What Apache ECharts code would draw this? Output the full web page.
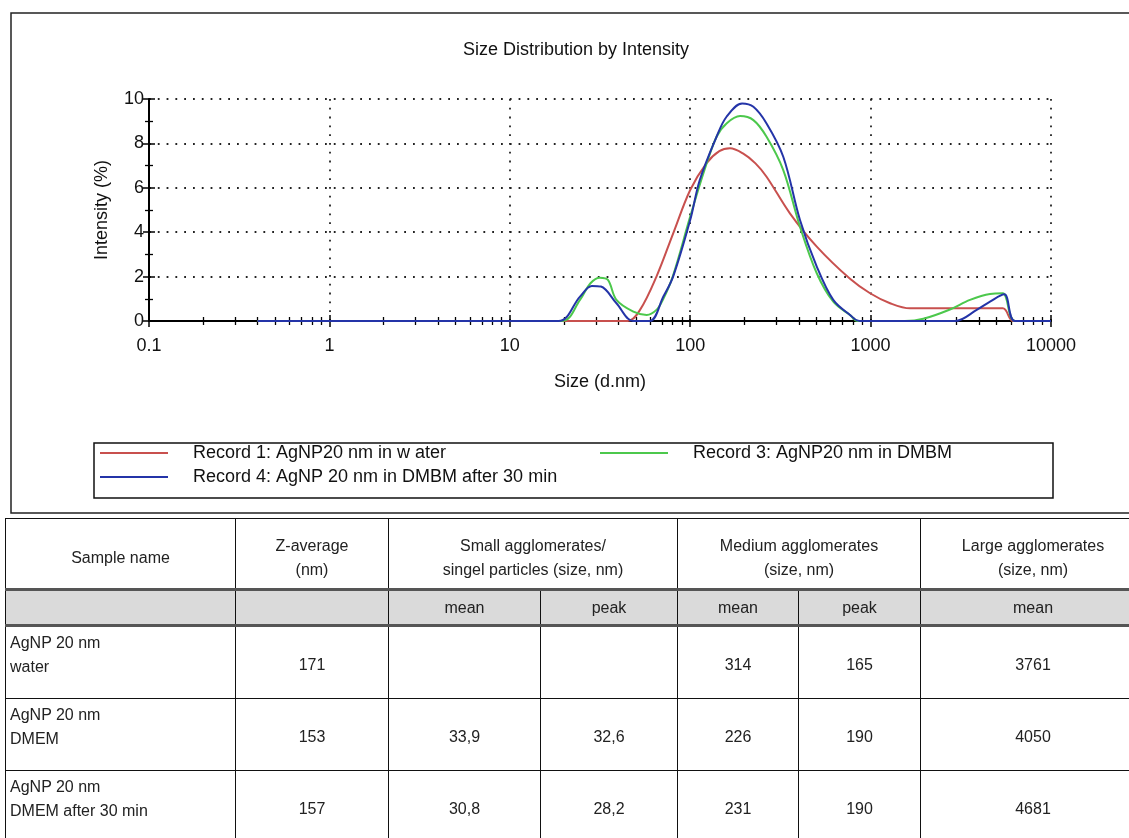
<!DOCTYPE html>
<html><head><meta charset="utf-8">
<script src="https://cdn.jsdelivr.net/npm/echarts@6/dist/echarts.min.js"></script>
<style>
html,body{margin:0;padding:0;background:#fff;width:1129px;height:838px;overflow:hidden;position:relative;}
#chart{position:absolute;left:0;top:0;width:1129px;height:520px;}
#tbl{position:absolute;left:5px;top:518px;border-collapse:collapse;table-layout:fixed;width:1140px;
 font-family:'Liberation Sans Narrow','Liberation Sans',Arial,sans-serif;font-size:16px;color:#222;}
#tbl td{border:1.5px solid #111;text-align:center;vertical-align:middle;padding:0;line-height:24px;}
#tbl tr.h td{border-bottom:3px solid #555;padding-top:8px;}
#tbl tr.s td{background:#dadada;border-bottom:3px solid #555;}
#tbl td.name{text-align:left;vertical-align:top;padding:4px 0 0 4px;}
#tbl td.num{padding-top:4px;}
</style></head>
<body>
<div id="chart"></div>
<table id="tbl"></table>
<script>
// ---------- chart data ----------
const chartTitle = 'Size Distribution by Intensity';
const seriesNames = ['Record 1: AgNP20 nm in w ater', 'Record 3: AgNP20 nm in DMBM', 'Record 4: AgNP 20 nm in DMBM after 30 min'];
const seriesColors = ['#c8504e', '#4cc84c', '#2434a8'];
const xTicks = [0.1, 1, 10, 100, 1000, 10000];

const sizeWater = [0.4, 45, 52.7, 65, 80.5, 100, 123, 145, 166, 196, 230, 265, 357, 503, 769, 993, 1282, 1656, 5400, 6170, 10000];
const intWater  = [0,   0,  0.5,  2.0, 3.95, 5.9, 7.1, 7.65, 7.78, 7.55, 7.1, 6.5, 4.85, 3.35, 1.9, 1.25, 0.8, 0.57, 0.57, 0, 0];

const sizeDmem = [0.4, 19.5, 24.5, 28, 31.6, 35, 39, 48.4, 57.4, 65, 71, 80, 100, 120, 140, 159, 189, 224, 265, 328, 406, 503, 621, 769, 850, 1549, 1960, 2754, 3556, 4592, 5400, 6310, 10000];
const intDmem  = [0,   0,    0.95, 1.7, 1.95, 1.85, 0.95, 0.42, 0.27, 0.5, 1.0, 2.0, 4.7, 6.8, 8.3, 8.9, 9.23, 9.05, 8.3, 6.8, 4.25, 2.15, 0.87, 0.27, 0, 0, 0.1, 0.52, 0.95, 1.22, 1.25, 0, 0];

const sizeDmem30 = [0.4, 18.6, 24.5, 28.5, 32, 39, 48.2, 59.8, 71, 80.4, 100, 113, 140, 159, 194, 224, 265, 328, 406, 503, 621, 769, 870, 2938, 3873, 4592, 5508, 6310, 10000];
const intDmem30  = [0,   0,    1.1,  1.58, 1.55, 0.8, 0,  0,    1.1, 2.0, 4.55, 6.35, 8.3, 9.2, 9.8, 9.65, 8.9, 7.4, 4.55, 2.45, 0.95, 0.27, 0, 0, 0.5, 0.87, 1.2, 0, 0];

// ---------- table data ----------
const headTop = ['Sample name', 'Z-average<br>(nm)', 'Small agglomerates/<br>singel particles (size, nm)', 'Medium agglomerates<br>(size, nm)', 'Large agglomerates<br>(size, nm)'];
const subHead = ['', '', 'mean', 'peak', 'mean', 'peak', 'mean'];
const sampleNames = ['AgNP 20 nm<br>water', 'AgNP 20 nm<br>DMEM', 'AgNP 20 nm<br>DMEM after 30 min'];
const zAverage = ['171', '153', '157'];
const smallMean = ['', '33,9', '30,8'];
const smallPeak = ['', '32,6', '28,2'];
const mediumMean = ['314', '226', '231'];
const mediumPeak = ['165', '190', '190'];
const largeMean = ['3761', '4050', '4681'];

// ---------- build table ----------
(function(){
  const colW = [230, 153, 152, 137, 121, 122, 225];
  let h = '<colgroup>' + colW.map(w => '<col style="width:' + w + 'px">').join('') + '</colgroup>';
  h += '<tr class="h" style="height:71px"><td>' + headTop[0] + '</td><td>' + headTop[1] + '</td><td colspan="2">' + headTop[2] +
       '</td><td colspan="2">' + headTop[3] + '</td><td>' + headTop[4] + '</td></tr>';
  h += '<tr class="s" style="height:36px">' + subHead.map(s => '<td>' + s + '</td>').join('') + '</tr>';
  const rowH = [73, 72, 72];
  for (let i = 0; i < sampleNames.length; i++) {
    const c = v => '<td class="num">' + v + '</td>';
    h += '<tr style="height:' + rowH[i] + 'px"><td class="name">' + sampleNames[i] + '</td>' + c(zAverage[i]) + c(smallMean[i]) +
         c(smallPeak[i]) + c(mediumMean[i]) + c(mediumPeak[i]) + c(largeMean[i]) + '</tr>';
  }
  document.getElementById('tbl').innerHTML = h;
})();

// ---------- build chart ----------
const zip = (xs, ys) => xs.map((x, i) => [x, ys[i]]);
const seriesData = [zip(sizeWater, intWater), zip(sizeDmem, intDmem), zip(sizeDmem30, intDmem30)];
const FONT = "'Liberation Sans', Arial, sans-serif";
const dotted = { color: '#222', width: 1.8, type: [1.8, 7] };

const chart = echarts.init(document.getElementById('chart'), null, { renderer: 'canvas' });

function xAxisCfg(inside, main) {
  return {
    type: 'log', logBase: 10, min: 0.1, max: 10000, position: 'bottom', gridIndex: 0,
    name: main ? 'Size (d.nm)' : '', nameLocation: 'middle', nameGap: 52,
    nameTextStyle: { fontFamily: FONT, fontSize: 18, color: '#111' },
    axisLine: { show: main, onZero: false, lineStyle: { color: '#000', width: 2 } },
    axisTick: { show: true, inside: inside, length: 6, lineStyle: { color: '#000', width: 1.5 } },
    minorTick: { show: true, splitNumber: 9, length: 4, lineStyle: { color: '#000', width: 1.3 } },
    axisLabel: { show: main, margin: 16, fontFamily: FONT, fontSize: 18, color: '#111',
      formatter: v => { const r = xTicks.find(t => Math.abs(t - v) / t < 1e-6); return r === undefined ? '' : String(r); } },
    splitLine: { show: main, lineStyle: dotted },
    minorSplitLine: { show: false }
  };
}
function yAxisCfg(inside, main) {
  return {
    type: 'value', min: 0, max: 10, interval: 2, position: 'left', gridIndex: 0,
    name: main ? 'Intensity (%)' : '', nameLocation: 'middle', nameGap: 38, nameRotate: 90,
    nameTextStyle: { fontFamily: FONT, fontSize: 18, color: '#111' },
    axisLine: { show: main, lineStyle: { color: '#000', width: 2 } },
    axisTick: { show: true, inside: inside, length: 6, lineStyle: { color: '#000', width: 1.5 } },
    minorTick: { show: true, splitNumber: 2, length: 4, lineStyle: { color: '#000', width: 1.3 } },
    axisLabel: { show: main, margin: 5, fontFamily: FONT, fontSize: 18, color: '#111' },
    splitLine: { show: main, lineStyle: dotted }
  };
}

const legendPos = [[100, 444], [600, 444], [100, 468]];

chart.setOption({
  animation: false,
  backgroundColor: '#fff',
  title: { text: chartTitle, left: 571, top: 36, textAlign: 'center',
    textStyle: { fontFamily: FONT, fontSize: 18, fontWeight: 'normal', color: '#111' } },
  grid: { left: 149, right: 78, top: 99, bottom: 199 },
  xAxis: [xAxisCfg(false, true), xAxisCfg(true, false)],
  yAxis: [yAxisCfg(false, true), yAxisCfg(true, false)],
  legend: seriesNames.map((n, i) => ({
    data: [n], left: legendPos[i][0], top: legendPos[i][1], orient: 'horizontal',
    icon: 'rect', itemWidth: 68, itemHeight: 2, padding: 0,
    textStyle: { fontFamily: FONT, fontSize: 18, color: '#111', padding: [0, 0, 0, 20] }
  })),
  graphic: [
    { type: 'rect', shape: { x: 11, y: 13, width: 1140, height: 500 }, style: { fill: 'none', stroke: '#222', lineWidth: 1.5 }, silent: true },
    { type: 'rect', shape: { x: 94, y: 443, width: 959, height: 55 }, style: { fill: 'none', stroke: '#111', lineWidth: 1.5 }, silent: true }
  ],
  series: seriesNames.map((n, i) => ({
    name: n, type: 'line', xAxisIndex: 0, yAxisIndex: 0,
    data: seriesData[i], showSymbol: false, smooth: 0.35,
    lineStyle: { color: seriesColors[i], width: 2 }, itemStyle: { color: seriesColors[i] },
    z: 2 + i
  }))
});
</script>
</body></html>
